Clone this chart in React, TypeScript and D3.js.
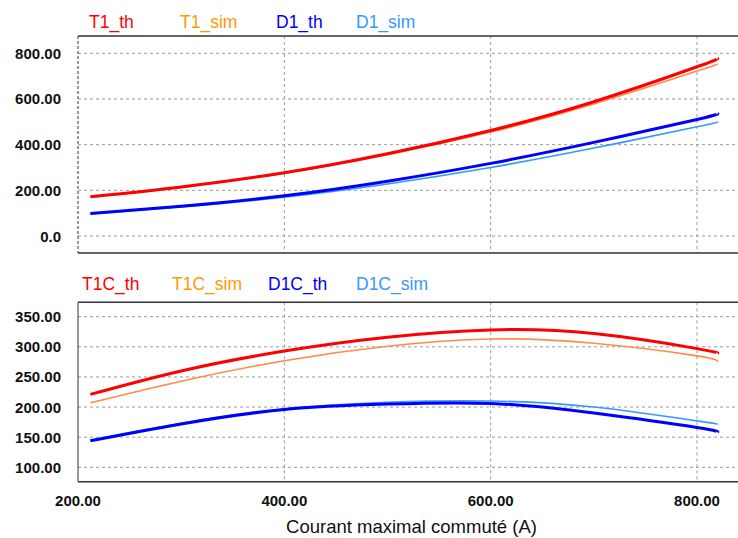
import React from "react";
import * as d3 from "d3";

const xs = [212, 300, 400, 500, 600, 700, 800, 820];

// Top panel
const T1_th = [172, 215, 277, 360, 462, 588, 741, 778];
const T1_sim = [170, 213, 275, 356, 455, 578, 722, 753];
const D1_th = [99, 130, 176, 240, 318, 410, 510, 537];
const D1_sim = [97, 127, 170, 228, 300, 385, 478, 500];

// Bottom panel
const T1C_th = [221, 260, 293, 316, 328, 322, 297, 289];
const T1C_sim = [207, 243, 277, 301, 313, 306, 285, 275];
const D1C_th = [144, 172, 196, 205, 206, 190, 166, 158];
const D1C_sim = [145, 173, 197, 208, 210, 200, 177, 172];

const xTicks = [200, 400, 600, 800];
const topTicks = [0, 200, 400, 600, 800];
const botTicks = [100, 150, 200, 250, 300, 350];

const RED = "#ff0000";
const ORANGE = "#ff9900";
const SIM_ORANGE = "#ff8a4a";
const BLUE = "#0000ff";
const LBLUE = "#3399ff";

const W = 738;
const H = 538;
const LEFT = 78;
const RIGHT = 738;

export default function App() {
  const x = d3.scaleLinear().domain([200, 800]).range([78, 697]);
  const yTop = d3.scaleLinear().domain([0, 800]).range([236, 53.3]);
  const yBot = d3.scaleLinear().domain([100, 350]).range([467.3, 316.7]);

  const mk = (y: d3.ScaleLinear<number, number>) =>
    d3
      .line<number>()
      .x((_, i) => x(xs[i]))
      .y((v) => y(v))
      .curve(d3.curveNatural);

  const lt = mk(yTop);
  const lb = mk(yBot);

  const tickFont = "'Liberation Sans', Arial, sans-serif";

  const panel = (
    y: d3.ScaleLinear<number, number>,
    ticks: number[],
    top: number,
    bottom: number,
    fmt: (v: number) => string,
    leftDashed: boolean
  ) => (
    <g>
      {ticks.map((t) => (
        <line
          key={"h" + t}
          x1={LEFT}
          x2={RIGHT}
          y1={y(t)}
          y2={y(t)}
          stroke="#9a9a9a"
          strokeDasharray="3,3"
          strokeWidth={1}
        />
      ))}
      {xTicks.slice(1).map((t) => (
        <line
          key={"v" + t}
          x1={x(t)}
          x2={x(t)}
          y1={top}
          y2={bottom}
          stroke="#9a9a9a"
          strokeDasharray="3,3"
          strokeWidth={1}
        />
      ))}
      <line x1={LEFT} x2={RIGHT} y1={top} y2={top} stroke="#333" strokeWidth={1.5} />
      <line x1={LEFT} x2={RIGHT} y1={bottom} y2={bottom} stroke="#333" strokeWidth={1.5} />
      <line
        x1={LEFT}
        x2={LEFT}
        y1={top}
        y2={bottom}
        stroke="#333"
        strokeWidth={1}
        strokeDasharray={leftDashed ? "3,2" : undefined}
      />
      {ticks.map((t) => (
        <text
          key={"l" + t}
          x={61}
          y={y(t) + 5.5}
          textAnchor="end"
          fontFamily={tickFont}
          fontWeight="bold"
          fontSize={15}
          fill="#111"
        >
          {fmt(t)}
        </text>
      ))}
    </g>
  );

  const legend = (items: { label: string; color: string; x: number }[], y: number) => (
    <g>
      {items.map((it) => (
        <text
          key={it.label}
          x={it.x}
          y={y}
          fontFamily={tickFont}
          fontSize={17.5}
          fill={it.color}
        >
          {it.label}
        </text>
      ))}
    </g>
  );

  return (
    <svg
      width={W}
      height={H}
      style={{ position: "absolute", left: 0, top: 0, background: "#fff" }}
    >
      <rect width={W} height={H} fill="#fff" />
      {panel(yTop, topTicks, 36, 253, (v) => (v === 0 ? "0.0" : v.toFixed(2)), true)}
      {panel(yBot, botTicks, 302.3, 481.7, (v) => v.toFixed(2), false)}

      {legend(
        [
          { label: "T1_th", color: RED, x: 89 },
          { label: "T1_sim", color: ORANGE, x: 180 },
          { label: "D1_th", color: BLUE, x: 276 },
          { label: "D1_sim", color: LBLUE, x: 356 },
        ],
        28
      )}
      {legend(
        [
          { label: "T1C_th", color: RED, x: 82 },
          { label: "T1C_sim", color: ORANGE, x: 172 },
          { label: "D1C_th", color: BLUE, x: 268 },
          { label: "D1C_sim", color: LBLUE, x: 356 },
        ],
        289.5
      )}

      {/* top panel lines */}
      <path d={lt(T1_sim) || ""} fill="none" stroke={SIM_ORANGE} strokeWidth={1.6} />
      <path d={lt(T1_th) || ""} fill="none" stroke={RED} strokeWidth={3} />
      <path d={lt(D1_sim) || ""} fill="none" stroke={LBLUE} strokeWidth={1.6} />
      <path d={lt(D1_th) || ""} fill="none" stroke={BLUE} strokeWidth={3} />

      {/* bottom panel lines */}
      <path d={lb(T1C_sim) || ""} fill="none" stroke={SIM_ORANGE} strokeWidth={1.6} />
      <path d={lb(T1C_th) || ""} fill="none" stroke={RED} strokeWidth={3} />
      <path d={lb(D1C_sim) || ""} fill="none" stroke={LBLUE} strokeWidth={1.6} />
      <path d={lb(D1C_th) || ""} fill="none" stroke={BLUE} strokeWidth={3} />

      {xTicks.map((t) => (
        <text
          key={"xt" + t}
          x={x(t)}
          y={506}
          textAnchor="middle"
          fontFamily={tickFont}
          fontWeight="bold"
          fontSize={15}
          fill="#111"
        >
          {t.toFixed(2)}
        </text>
      ))}
      <text
        x={411.5}
        y={533}
        textAnchor="middle"
        fontFamily={tickFont}
        fontSize={18.5}
        fill="#111"
      >
        Courant maximal commuté (A)
      </text>
    </svg>
  );
}
